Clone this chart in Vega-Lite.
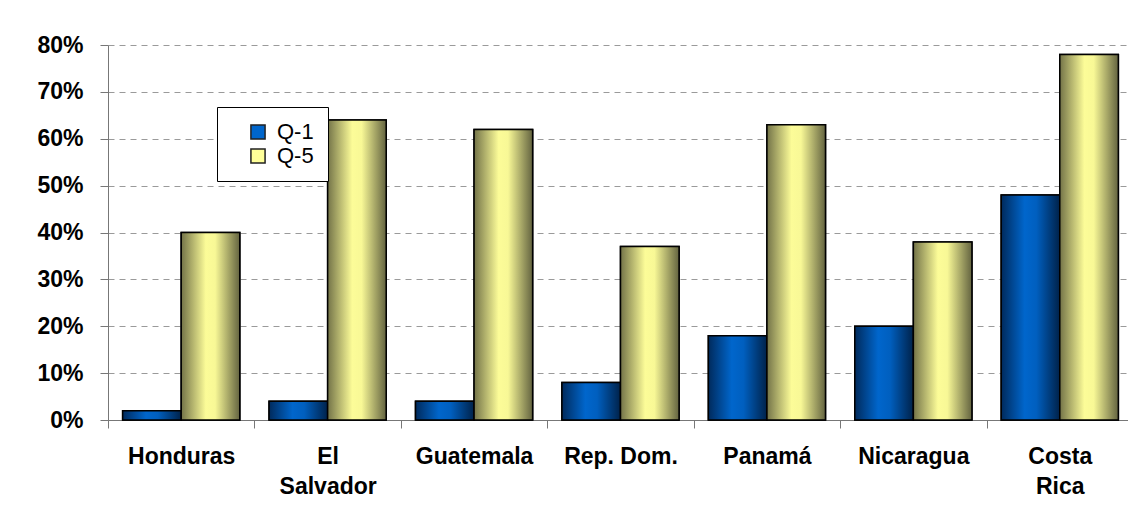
{
  "$schema": "https://vega.github.io/schema/vega-lite/v6.json",
  "autosize": {"type": "none"},
  "width": 1025,
  "height": 375,
  "padding": {"left": 108, "top": 45, "right": -5, "bottom": 97},
  "background": "white",
  "title": {
    "text": "por quintil de ingreso per cápita",
    "anchor": "start",
    "frame": "group",
    "dx": 468,
    "offset": 47,
    "baseline": "alphabetic",
    "font": "Liberation Serif",
    "fontSize": 30,
    "fontWeight": "bold",
    "color": "black"
  },
  "config": {"view": {"stroke": null}, "font": "Liberation Sans"},
  "data": {
    "values": [
      {"pais": "Honduras", "quintil": "Q-1", "valor": 0.02},
      {"pais": "Honduras", "quintil": "Q-5", "valor": 0.40},
      {"pais": "El Salvador", "quintil": "Q-1", "valor": 0.04},
      {"pais": "El Salvador", "quintil": "Q-5", "valor": 0.64},
      {"pais": "Guatemala", "quintil": "Q-1", "valor": 0.04},
      {"pais": "Guatemala", "quintil": "Q-5", "valor": 0.62},
      {"pais": "Rep. Dom.", "quintil": "Q-1", "valor": 0.08},
      {"pais": "Rep. Dom.", "quintil": "Q-5", "valor": 0.37},
      {"pais": "Panamá", "quintil": "Q-1", "valor": 0.18},
      {"pais": "Panamá", "quintil": "Q-5", "valor": 0.63},
      {"pais": "Nicaragua", "quintil": "Q-1", "valor": 0.20},
      {"pais": "Nicaragua", "quintil": "Q-5", "valor": 0.38},
      {"pais": "Costa Rica", "quintil": "Q-1", "valor": 0.48},
      {"pais": "Costa Rica", "quintil": "Q-5", "valor": 0.78}
    ]
  },
  "encoding": {
    "x": {
      "field": "pais",
      "type": "nominal",
      "sort": null,
      "scale": {"paddingInner": 0, "paddingOuter": 0},
      "axis": {
        "title": null,
        "labelAngle": 0,
        "tickBand": "extent",
        "tickSize": 8,
        "tickColor": "#777777",
        "domainColor": "#777777",
        "labelFont": "Liberation Sans",
        "labelFontSize": 23,
        "labelFontWeight": "bold",
        "labelColor": "black",
        "labelPadding": 17,
        "labelLineHeight": 30,
        "labelLimit": 300,
        "labelExpr": "datum.value == 'El Salvador' ? ['El', 'Salvador'] : datum.value == 'Costa Rica' ? ['Costa', 'Rica'] : datum.label"
      }
    },
    "xOffset": {
      "field": "quintil",
      "type": "nominal",
      "scale": {"domain": ["Q-1", "Q-5"], "paddingInner": 0, "paddingOuter": 0.25}
    },
    "y": {
      "field": "valor",
      "type": "quantitative",
      "scale": {"domain": [0, 0.8]},
      "axis": {
        "title": null,
        "format": "%",
        "values": [0, 0.1, 0.2, 0.3, 0.4, 0.5, 0.6, 0.7, 0.8],
        "labelFont": "Liberation Sans",
        "labelFontSize": 23,
        "labelFontWeight": "bold",
        "labelColor": "black",
        "labelPadding": 17,
        "tickSize": 8,
        "tickColor": "#777777",
        "domainColor": "#777777",
        "grid": true,
        "gridColor": "#9a9a9a",
        "gridDash": [6, 5]
      }
    }
  },
  "layer": [
    {
      "mark": {"type": "bar", "stroke": "black", "strokeWidth": 1.5},
      "encoding": {
        "color": {
          "field": "quintil",
          "type": "nominal",
          "scale": {"domain": ["Q-1", "Q-5"], "range": ["#0066cc", "#ffff99"]},
          "legend": {
            "title": null,
            "orient": "none",
            "legendX": 109,
            "legendY": 62,
            "fillColor": "white",
            "strokeColor": "black",
            "padding": 14,
            "symbolType": "square",
            "symbolSize": 200,
            "symbolStrokeColor": "#222222",
            "symbolOffset": 16,
            "labelOffset": 8,
            "labelFont": "Liberation Sans",
            "labelFontSize": 22,
            "labelColor": "black",
            "rowPadding": 2,
            "labelExpr": "datum.label + '\u00a0\u00a0\u00a0\u00a0\u00a0'"
          }
        }
      }
    },
    {
      "transform": [{"filter": "datum.quintil == 'Q-1'"}],
      "mark": {
        "type": "bar",
        "stroke": "black",
        "strokeWidth": 1.5,
        "fill": {"gradient": "linear", "x1": 0, "y1": 0, "x2": 1, "y2": 0,
          "stops": [
            {"offset": 0, "color": "#002a5c"},
            {"offset": 0.4, "color": "#0066cc"},
            {"offset": 0.6, "color": "#005fbf"},
            {"offset": 1, "color": "#00224a"}
          ]}
      }
    },
    {
      "transform": [{"filter": "datum.quintil == 'Q-5'"}],
      "mark": {
        "type": "bar",
        "stroke": "black",
        "strokeWidth": 1.5,
        "fill": {"gradient": "linear", "x1": 0, "y1": 0, "x2": 1, "y2": 0,
          "stops": [
            {"offset": 0, "color": "#737348"},
            {"offset": 0.42, "color": "#fcfc98"},
            {"offset": 0.58, "color": "#f8f896"},
            {"offset": 1, "color": "#636340"}
          ]}
      }
    }
  ]
}
